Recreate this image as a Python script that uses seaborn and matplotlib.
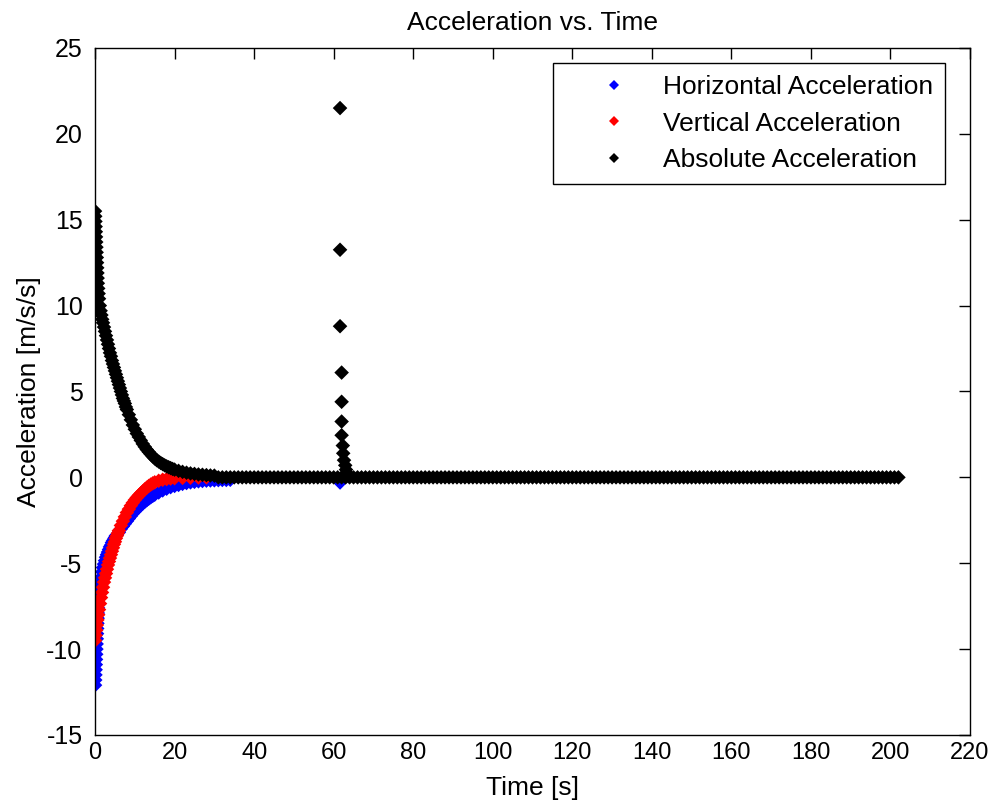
import pandas as pd
import matplotlib; matplotlib.use('Agg')
import matplotlib.pyplot as plt
import seaborn as sns

LABELS = ['Horizontal Acceleration', 'Vertical Acceleration', 'Absolute Acceleration']
COLORS = ['#0000ff', '#ff0000', '#000000']

# horizontal acceleration [m/s/s]
horiz_t = [0.0, 0.05, 0.1, 0.15, 0.2, 0.25, 0.3, 0.35, 0.4, 0.45, 0.5, 0.55, 0.6, 0.65, 0.7, 0.75,
           0.8, 0.9, 1.0, 1.2, 1.4, 1.6, 1.8, 2.0, 2.25, 2.5, 2.75, 3.0, 3.25, 3.5, 3.75, 4.0,
           4.25, 4.5, 4.75, 5.0, 5.25, 5.5, 6.0, 6.5, 7.0, 7.5, 8.0, 8.5, 9.0, 9.5, 10, 10.5,
           11, 11.5, 12, 12.5, 13, 13.5, 14, 14.5, 15, 16, 17, 18, 19, 20, 21, 22, 23, 24, 25,
           26, 27, 28, 29, 30, 31, 32, 33, 34, 61.6]
horiz_a = [-12.1, -11.8, -11.5, -11.2, -10.9, -10.6, -10.3, -10.0, -9.7, -9.4, -9.1, -8.8, -8.5,
           -8.2, -7.9, -7.6, -7.3, -7.0, -6.7, -6.4, -6.1, -5.8, -5.5, -5.25, -5.05, -4.85, -4.65,
           -4.5, -4.35, -4.2, -4.05, -3.95, -3.8, -3.7, -3.6, -3.5, -3.4, -3.35, -3.2, -3.0, -2.85,
           -2.7, -2.55, -2.4, -2.25, -2.1, -1.98, -1.86, -1.74, -1.63, -1.52, -1.42, -1.33, -1.24,
           -1.16, -1.08, -1.01, -0.88, -0.76, -0.66, -0.57, -0.5, -0.44, -0.38, -0.33, -0.29,
           -0.26, -0.23, -0.21, -0.19, -0.18, -0.17, -0.16, -0.15, -0.15, -0.14, -0.3]

# vertical acceleration [m/s/s]
vert_t = [0.0, 0.15, 0.3, 0.45, 0.6, 0.8, 1.0, 1.25, 1.5, 1.75, 2.0, 2.25, 2.5, 2.75, 3.0, 3.25,
          3.5, 3.75, 4.0, 4.25, 4.5, 4.75, 5.0, 5.25, 5.5, 5.75, 6.0, 6.5, 7.0, 7.5, 8.0, 8.5,
          9.0, 9.5, 10, 10.5, 11, 11.5, 12, 12.5, 13, 13.5, 14, 14.5, 15, 16, 17, 18, 19, 20,
          22, 24, 26, 28]
vert_a = [-9.5, -9.2, -8.9, -8.6, -8.3, -8.0, -7.7, -7.35, -7.0, -6.7, -6.4, -6.1, -5.85, -5.6,
          -5.35, -5.1, -4.9, -4.7, -4.5, -4.3, -4.1, -3.9, -3.75, -3.55, -3.4, -3.25, -3.1, -2.8,
          -2.55, -2.3, -2.05, -1.85, -1.65, -1.48, -1.32, -1.18, -1.05, -0.93, -0.82, -0.7, -0.6,
          -0.5, -0.42, -0.35, -0.29, -0.2, -0.14, -0.1, -0.07, -0.05, -0.03, -0.02, -0.01, 0.0]

# absolute acceleration: initial decay, spike near 62 s, flat tail
abs_t = [0.0, 0.05, 0.1, 0.15, 0.2, 0.25, 0.3, 0.35, 0.4, 0.45, 0.5, 0.55, 0.6, 0.65, 0.7, 0.8,
         0.9, 1.0, 1.2, 1.4, 1.6, 1.8, 2.0, 2.25, 2.5, 2.75, 3.0, 3.25, 3.5, 3.75, 4.0, 4.25,
         4.5, 4.75, 5.0, 5.25, 5.5, 5.75, 6.0, 6.25, 6.5, 6.75, 7.0, 7.25, 7.5, 7.75, 8.0, 8.5,
         9.0, 9.5, 10.0, 10.5, 11.0, 11.5, 12.0, 12.5, 13.0, 13.5, 14.0, 14.5, 15.0, 15.5, 16,
         16.5, 17, 17.5, 18, 18.5, 19, 19.5, 20, 21, 22, 23, 24, 25, 26, 27, 28, 29, 30]
abs_a = [15.5, 15.2, 14.9, 14.6, 14.3, 14.0, 13.7, 13.4, 13.1, 12.8, 12.5, 12.2, 11.9, 11.6, 11.3,
         11.0, 10.7, 10.4, 10.0, 9.7, 9.45, 9.2, 9.0, 8.75, 8.5, 8.25, 8.0, 7.75, 7.5, 7.25, 7.05,
         6.8, 6.6, 6.4, 6.2, 6.0, 5.8, 5.6, 5.4, 5.2, 5.0, 4.8, 4.6, 4.45, 4.3, 4.1, 3.95, 3.65,
         3.35, 3.05, 2.8, 2.55, 2.35, 2.15, 1.95, 1.78, 1.62, 1.48, 1.35, 1.22, 1.1, 1.0, 0.92,
         0.84, 0.77, 0.7, 0.64, 0.59, 0.54, 0.49, 0.45, 0.38, 0.32, 0.27, 0.23, 0.2, 0.17, 0.15,
         0.13, 0.11, 0.1]
spike_t = [61.6, 61.6, 61.6, 62.0, 62.0, 62.0, 62.0, 62.3, 62.4, 62.6, 62.9, 63.1, 63.3, 63.5]
spike_a = [21.5, 13.25, 8.8, 6.1, 4.4, 3.25, 2.45, 1.85, 1.4, 1.0, 0.7, 0.45, 0.25, 0.12]
tail_t = [31, 32, 33, 34, 35, 36, 37, 38, 39, 40, 41, 42, 43, 44, 45, 46, 47, 48, 49, 50,
          51, 52, 53, 54, 55, 56, 57, 58, 59, 60, 61, 62, 63, 64, 65, 66, 67, 68, 69, 70,
          71, 72, 73, 74, 75, 76, 77, 78, 79, 80, 81, 82, 83, 84, 85, 86, 87, 88, 89, 90,
          91, 92, 93, 94, 95, 96, 97, 98, 99, 100, 101, 102, 103, 104, 105, 106, 107, 108, 109, 110,
          111, 112, 113, 114, 115, 116, 117, 118, 119, 120, 121, 122, 123, 124, 125, 126, 127, 128, 129, 130,
          131, 132, 133, 134, 135, 136, 137, 138, 139, 140, 141, 142, 143, 144, 145, 146, 147, 148, 149, 150,
          151, 152, 153, 154, 155, 156, 157, 158, 159, 160, 161, 162, 163, 164, 165, 166, 167, 168, 169, 170,
          171, 172, 173, 174, 175, 176, 177, 178, 179, 180, 181, 182, 183, 184, 185, 186, 187, 188, 189, 190,
          191, 192, 193, 194, 195, 196, 197, 198, 199, 200, 201, 202]
tail_a = [0, 0, 0, 0, 0, 0, 0, 0, 0, 0, 0, 0, 0, 0, 0, 0, 0, 0, 0, 0,
          0, 0, 0, 0, 0, 0, 0, 0, 0, 0, 0, 0, 0, 0, 0, 0, 0, 0, 0, 0,
          0, 0, 0, 0, 0, 0, 0, 0, 0, 0, 0, 0, 0, 0, 0, 0, 0, 0, 0, 0,
          0, 0, 0, 0, 0, 0, 0, 0, 0, 0, 0, 0, 0, 0, 0, 0, 0, 0, 0, 0,
          0, 0, 0, 0, 0, 0, 0, 0, 0, 0, 0, 0, 0, 0, 0, 0, 0, 0, 0, 0,
          0, 0, 0, 0, 0, 0, 0, 0, 0, 0, 0, 0, 0, 0, 0, 0, 0, 0, 0, 0,
          0, 0, 0, 0, 0, 0, 0, 0, 0, 0, 0, 0, 0, 0, 0, 0, 0, 0, 0, 0,
          0, 0, 0, 0, 0, 0, 0, 0, 0, 0, 0, 0, 0, 0, 0, 0, 0, 0, 0, 0,
          0, 0, 0, 0, 0, 0, 0, 0, 0, 0, 0, 0]

df = pd.concat([
    pd.DataFrame({'t': horiz_t, 'a': horiz_a, 'series': LABELS[0]}),
    pd.DataFrame({'t': vert_t, 'a': vert_a, 'series': LABELS[1]}),
    pd.DataFrame({'t': abs_t + spike_t + tail_t, 'a': abs_a + spike_a + tail_a, 'series': LABELS[2]}),
], ignore_index=True)

sns.set_style('white')
plt.rcParams['font.family'] = ['Liberation Sans', 'DejaVu Sans']
plt.rcParams['axes.unicode_minus'] = False
plt.rcParams['text.color'] = 'black'
plt.rcParams['axes.labelcolor'] = 'black'

fig = plt.figure(figsize=(9.88, 8.06), dpi=100)
ax = fig.add_axes([0.0962, 0.0881, 0.8856, 0.8524])
sns.scatterplot(data=df, x='t', y='a', hue='series', hue_order=LABELS,
                palette=dict(zip(LABELS, COLORS)), marker='D', s=55, linewidth=0, ax=ax)

ax.set_xlim(0, 220); ax.set_ylim(-15, 25)
ax.set_xticks(range(0, 221, 20)); ax.set_yticks(range(-15, 26, 5))
ax.tick_params(axis='both', direction='in', top=True, right=True, length=8, width=1,
               labelsize=18, colors='black')
ax.tick_params(axis='x', pad=5, labelsize=17); ax.tick_params(axis='y', pad=9)
for sp in ax.spines.values():
    sp.set_visible(True); sp.set_color('black'); sp.set_linewidth(1)

ax.set_xlabel('Time [s]', fontsize=19, labelpad=9)
ax.set_ylabel('Acceleration [m/s/s]', fontsize=19, labelpad=4)
ax.set_title('Acceleration vs. Time', fontsize=19, pad=13)

h, l = ax.get_legend_handles_labels()
leg = ax.legend(h, l, loc='upper right', bbox_to_anchor=(0.971, 0.978), borderaxespad=0,
                frameon=True, fancybox=False, edgecolor='black', framealpha=1, fontsize=19,
                handlelength=3.7, handletextpad=0.0, borderpad=0.45, labelspacing=0.48,
                markerscale=0.7)
leg.get_frame().set_linewidth(1)

fig.savefig('out.png', dpi=100)
